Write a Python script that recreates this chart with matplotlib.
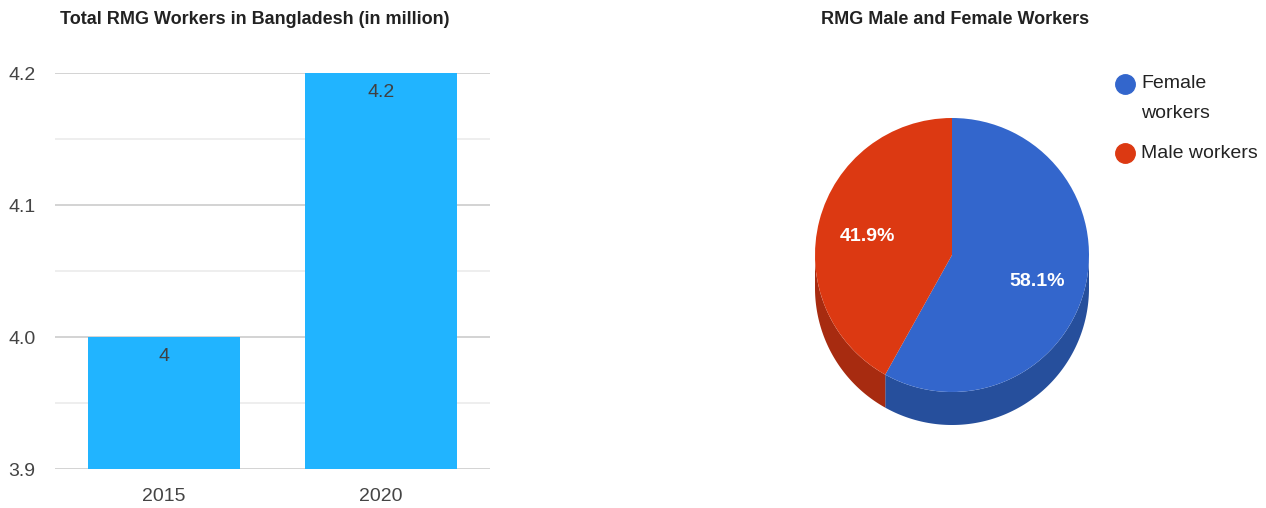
import matplotlib
matplotlib.use('Agg')
import matplotlib.pyplot as plt
import numpy

# bar chart data
years = ['2015', '2020']
workers_million = [4.0, 4.2]
bar_labels = ['4', '4.2']

# pie chart data
pie_labels = ['Female\nworkers', 'Male workers']
pie_shares = [58.1, 41.9]

BAR_COLOR = '#21b4ff'
PIE_COLORS = ['#3366cc', '#dc3912']
SIDE_COLORS = ['#264f9c', '#a72b10']

plt.rcParams['font.family'] = ['Liberation Sans', 'DejaVu Sans']

W, H = 1266, 508
fig = plt.figure(figsize=(W / 100, H / 100), dpi=100)

# --- bars ---
ax = fig.add_axes([55 / W, (H - 469) / H, 435 / W, 396 / H])
x = numpy.arange(len(years))
ax.bar(x, numpy.array(workers_million) - 3.9, bottom=3.9, width=0.70,
       color=BAR_COLOR, zorder=2)
for xi, v, lab in zip(x, workers_million, bar_labels):
    ax.text(xi, v - 0.008, lab, ha='center', va='top', fontsize=14,
            color='#404040', zorder=3)
ax.set_xlim(-0.5, 1.5)
ax.set_ylim(3.9, 4.2)
ax.set_yticks([3.9, 4.0, 4.1, 4.2])
ax.set_yticklabels(['3.9', '4.0', '4.1', '4.2'])
ax.set_yticks([3.95, 4.05, 4.15], minor=True)
ax.set_xticks(x)
ax.set_xticklabels(years)
ax.grid(axis='y', which='major', color='#cccccc', linewidth=1.2, zorder=0)
ax.grid(axis='y', which='minor', color='#ebebeb', linewidth=1.2, zorder=0)
for s in ax.spines.values():
    s.set_visible(False)
ax.tick_params(axis='both', which='both', length=0, labelsize=14,
               labelcolor='#444444')
ax.tick_params(axis='y', pad=14)
ax.tick_params(axis='x', pad=14)
fig.text(255 / W, 1 - 20 / H, 'Total RMG Workers in Bangladesh (in million)',
         ha='center', va='center', fontsize=13, fontweight='bold',
         color='#222222')

# --- 3D-looking pie (pixel coordinates, y up) ---
pax = fig.add_axes([0, 0, 1, 1])
cx, cy, r, depth = 952.0, H - 255.0, 137.0, 33.0

angles = 90 - numpy.concatenate([[0], numpy.cumsum(pie_shares)]) * 3.6
for i in range(len(pie_shares)):
    t = numpy.radians(numpy.linspace(angles[i + 1], angles[i], 500))
    t = t[numpy.sin(t) <= 0]
    if t.size < 2:
        continue
    xs = cx + r * numpy.cos(t)
    ys = cy + r * numpy.sin(t)
    pax.fill(numpy.concatenate([xs, xs[::-1]]),
             numpy.concatenate([ys, ys[::-1] - depth]),
             color=SIDE_COLORS[i], linewidth=0, zorder=1)

wedges, _, pct = pax.pie(pie_shares, colors=PIE_COLORS, startangle=90,
                         counterclock=False, center=(cx, cy), radius=r,
                         autopct='%1.1f%%', pctdistance=0.64,
                         wedgeprops=dict(linewidth=0), frame=True)
for w in wedges:
    w.set_zorder(2)
for t in pct:
    t.set_color('white')
    t.set_fontsize(14)
    t.set_fontweight('bold')
    t.set_zorder(3)
    px, py = t.get_position()
    t.set_position((px, py - 4))

# legend: dot on the first line of each entry
leg_x, leg_y, line_step = 1125, H - 84, 29
for lab, col in zip(pie_labels, PIE_COLORS):
    pax.plot(leg_x, leg_y, marker='o', markersize=14, color=col,
             linestyle='none', zorder=3)
    for k, line in enumerate(lab.split('\n')):
        pax.text(leg_x + 16, leg_y - k * line_step, line, ha='left',
                 va='center', fontsize=14, color='#222222')
    leg_y -= line_step * (lab.count('\n') + 1) + 11

pax.set_xlim(0, W)
pax.set_ylim(0, H)
pax.set_aspect('auto')
pax.axis('off')

fig.text(955 / W, 1 - 20 / H, 'RMG Male and Female Workers',
         ha='center', va='center', fontsize=13, fontweight='bold',
         color='#222222')

fig.savefig('out.png', dpi=100)
